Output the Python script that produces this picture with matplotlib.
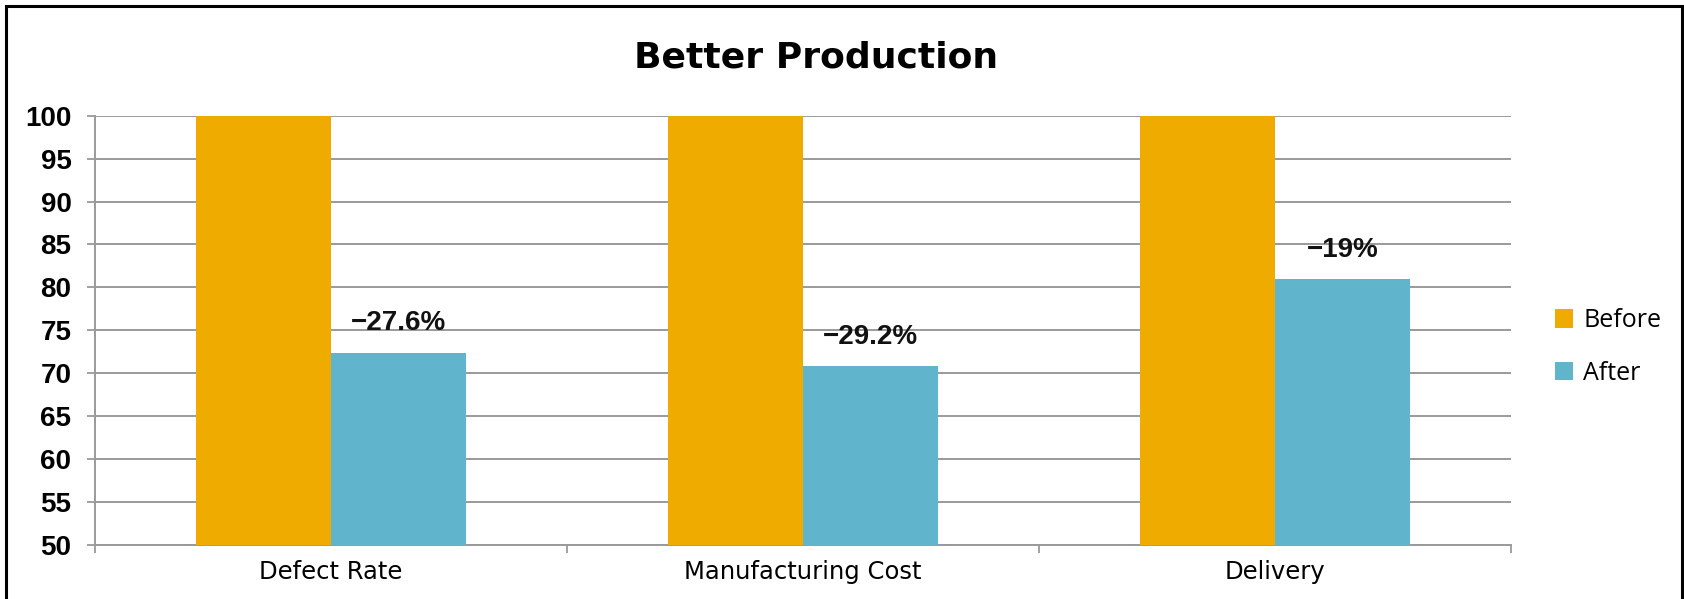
"""Before/after production comparison bar chart."""
import matplotlib
matplotlib.use("Agg")
import matplotlib.pyplot as plt
from matplotlib.patches import Rectangle
import numpy as np

categories = ["Defect Rate", "Manufacturing Cost", "Delivery"]
before = [100, 100, 100]
after = [72.4, 70.8, 81.0]
change_labels = ["\u221227.6%", "\u221229.2%", "\u221219%"]
series_names = ["Before", "After"]
yticks = list(range(50, 101, 5))

ORANGE = "#F0AB00"
BLUE = "#60B4CC"
GRID = "#9a9a9a"


def main() -> None:
    fig = plt.figure(figsize=(16.84, 5.99), dpi=100)
    ax = fig.add_axes([95 / 1684, 1 - 545 / 599, (1511 - 95) / 1684, (545 - 115.7) / 599])

    # outer chart frame (bottom edge runs off the picture)
    fig.patches.append(Rectangle((6 / 1684, -0.05), (1682 - 6) / 1684, 1.05 - 6 / 599,
                                 transform=fig.transFigure, fill=False,
                                 edgecolor="black", linewidth=2.2))

    x = np.arange(len(categories))
    w = 0.285
    ax.bar(x - w / 2, [b - 50 for b in before], w, bottom=50, color=ORANGE,
           label=series_names[0], zorder=3)
    ax.bar(x + w / 2, [a - 50 for a in after], w, bottom=50, color=BLUE,
           label=series_names[1], zorder=3)

    for xi, a, lab in zip(x, after, change_labels):
        ax.text(xi + w / 2, a + 1.9, lab, ha="center", va="bottom",
                fontsize=20, fontweight="bold", family="Liberation Sans",
                color="#111")

    ax.set_ylim(50, 100)
    ax.set_xlim(-0.5, len(categories) - 0.5)
    ax.set_yticks(yticks)
    ax.set_yticklabels([str(t) for t in yticks], fontsize=20, fontweight="bold",
                       family="Liberation Sans")
    ax.set_xticks(x)
    ax.set_xticklabels(categories, fontsize=17.5, family="DejaVu Sans")
    ax.set_xticks(np.arange(-0.5, len(categories)), minor=True)
    ax.tick_params(axis="x", which="major", length=0, pad=11)
    ax.tick_params(axis="x", which="minor", length=6, color=GRID, width=1.3)
    ax.tick_params(axis="y", length=6, color=GRID, width=1.3, pad=11)
    ax.yaxis.grid(True, color=GRID, linewidth=1.4, zorder=0)
    ax.set_axisbelow(True)
    for s in ("top", "right"):
        ax.spines[s].set_visible(False)
    for s in ("left", "bottom"):
        ax.spines[s].set_color(GRID)
        ax.spines[s].set_linewidth(1.4)

    fig.text(816 / 1684, 1 - 57 / 599, "Better Production", ha="center",
             va="center", fontsize=26, family="DejaVu Sans", fontweight="bold")

    fig.legend(loc="center left", bbox_to_anchor=(1532 / 1684, 1 - 347 / 599),
               frameon=False, prop={"family": "Open Sans", "size": 18},
               handlelength=0.75, handleheight=0.75, handletextpad=0.4,
               labelspacing=1.1)

    fig.savefig("out.png", dpi=100)


if __name__ == "__main__":
    main()
